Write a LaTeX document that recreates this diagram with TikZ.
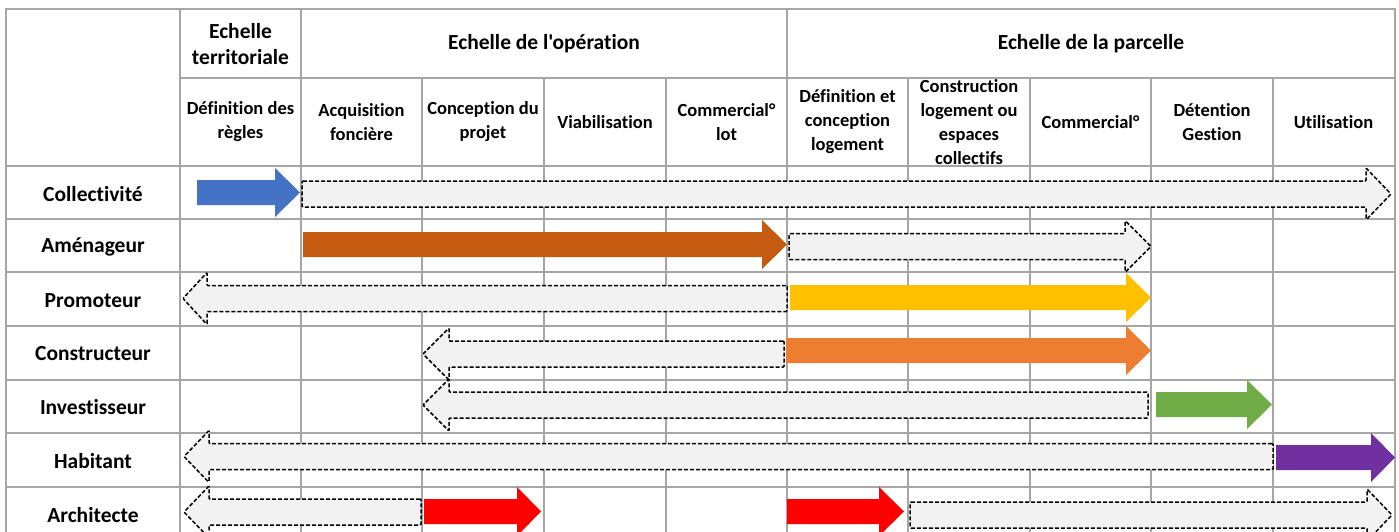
\documentclass[tikz,border=0pt]{standalone}
\usepackage{fontspec}
\setmainfont{Carlito}[Ligatures={NoCommon,TeXOff}]
\definecolor{gridgray}{HTML}{A6A6A6}
\definecolor{lightfill}{HTML}{F2F2F2}
\definecolor{cblue}{HTML}{4472C4}
\definecolor{cbrown}{HTML}{C55A11}
\definecolor{cyellow}{HTML}{FFC000}
\definecolor{corange}{HTML}{ED7D31}
\definecolor{cgreen}{HTML}{70AD47}
\definecolor{cpurple}{HTML}{7030A0}
% style, start, head base, tip, centre y, half shaft, half head
\newcommand{\blockarrow}[7]{%
  \path[#1] (#2,#5-#6) -- (#3,#5-#6) -- (#3,#5-#7) -- (#4,#5)
    -- (#3,#5+#7) -- (#3,#5+#6) -- (#2,#5+#6) -- cycle;}
\newcommand{\taskarrow}[5]{\blockarrow{task=#1}{#2}{#3}{#4}{#5}{12.5}{24.5}}
\newcommand{\phasearrow}[4]{\blockarrow{phase}{#1}{#2}{#3}{#4}{13}{26}}

\begin{document}
\begin{tikzpicture}[
  x=1pt, y=-1pt,
  every node/.style={align=center, inner sep=0pt},
  head/.style={font=\fontsize{21.5}{26}\selectfont\bfseries},
  stage/.style={font=\fontsize{18.5}{24}\selectfont\bfseries},
  grid/.style={draw=gridgray, line width=2pt},
  task/.style={fill=#1},
  phase/.style={draw=black, fill=lightfill, line width=1.5pt,
    dash pattern=on 4pt off 2pt, rounded corners=1pt}
]
  \clip (0,0) rectangle (1399,532);
  \fill[white] (0,0) rectangle (1399,532);
  % table
  \foreach \y in {166,219,272,326,380,433,487}
    \draw[grid] (6,\y) -- (1395,\y);
  \draw[grid] (180,78) -- (1395,78);
  \draw[grid] (6,9) rectangle (1395,600);
  \foreach \x in {180,301,787}
    \draw[grid] (\x,9) -- (\x,600);
  \foreach \x in {422,544,666,908,1030,1151,1273}
    \draw[grid] (\x,78) -- (\x,600);

  % scales
  \node[head] (territoriale) at (240.5,44) {Echelle\\territoriale};
  \node[head] (operation) at (544,44) {Echelle de l'opération};
  \node[head] (parcelle) at (1091,44) {Echelle de la parcelle};

  % steps
  \node[stage] (regles) at (240.5,122) {Définition des\\règles};
  \node[stage] (acquisition) at (361.5,122) {Acquisition\\foncière};
  \node[stage] (projet) at (483,122) {Conception du\\projet};
  \node[stage] (viabilisation) at (605,122) {Viabilisation};
  \node[stage] (lot) at (726.5,122) {Commercial°\\lot};
  \node[stage] (logement) at (847.5,122) {Définition et\\conception\\logement};
  \node[stage] (construction) at (969,122) {Construction\\logement ou\\espaces\\collectifs};
  \node[stage] (commercial) at (1090.5,122) {Commercial°};
  \node[stage] (gestion) at (1212,122) {Détention\\Gestion};
  \node[stage] (utilisation) at (1333.5,122) {Utilisation};

  % actors
  \node[head] (collectivite) at (93,194) {Collectivité};
  \node[head] (amenageur) at (93,247) {Aménageur};
  \node[head] (promoteur) at (93,300.5) {Promoteur};
  \node[head] (constructeur) at (93,354) {Constructeur};
  \node[head] (investisseur) at (93,407.5) {Investisseur};
  \node[head] (habitant) at (93,461) {Habitant};
  \node[head] (architecte) at (93,515) {Architecte};

  % arrows
  \taskarrow{cblue}{197}{275}{300}{192.5}
  \phasearrow{302}{1366}{1391}{194}
  \taskarrow{cbrown}{303}{762}{787}{244.5}
  \phasearrow{789}{1125}{1151}{246.5}
  \phasearrow{787}{207}{183}{298.5}
  \taskarrow{cyellow}{790}{1126}{1151}{297.5}
  \phasearrow{784}{449}{423}{354}
  \taskarrow{corange}{786}{1126}{1151}{350.5}
  \phasearrow{1148}{449}{423}{405}
  \taskarrow{cgreen}{1156}{1247}{1272}{404.5}
  \phasearrow{1273}{209}{184}{456.5}
  \taskarrow{cpurple}{1276}{1371}{1395}{457.5}
  \phasearrow{421}{209}{184}{512}
  \taskarrow{red}{424}{517}{541}{511.5}
  \taskarrow{red}{787}{879}{904}{511.5}
  \phasearrow{910}{1367}{1392}{515}
\end{tikzpicture}
\end{document}
